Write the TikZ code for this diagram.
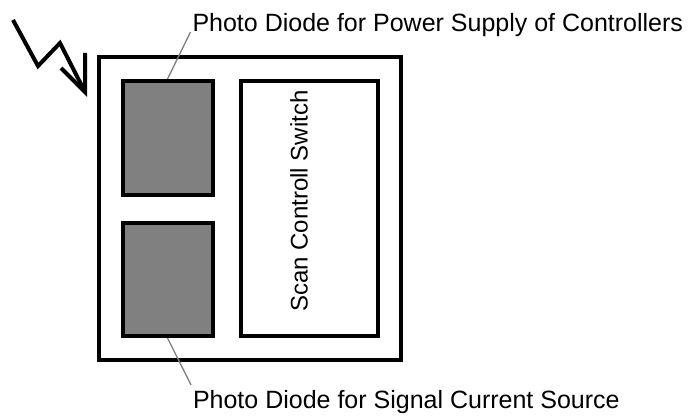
\documentclass[tikz,border=0pt]{standalone}
\usepackage{fontspec}
\setsansfont{Liberation Sans}
\usetikzlibrary{positioning}
\definecolor{cdiode}{HTML}{808080}
\definecolor{cgrey}{HTML}{7F7F7F}
\tikzset{
  every picture/.style={font=\sffamily, line width=4pt},
  box/.style={draw=black, fill=#1, rectangle, inner sep=0pt},
  box/.default=white,
  leader/.style={draw=cgrey, line width=1.3pt},
  lbl/.style={font=\sffamily\fontsize{25}{30}\selectfont, inner xsep=0pt, inner ysep=3pt},
}

\begin{document}
\begin{tikzpicture}[x=1pt, y=-1pt]
  \useasboundingbox (0,0) rectangle (692,417);
  % chip
  \node[box, minimum width=302pt, minimum height=302.5pt] (chip) at (250,208.25) {};
  \node[box=cdiode, minimum width=90pt, minimum height=113.5pt] (pdpower) at (167.5,137.75) {};
  \node[box=cdiode, minimum width=90pt, minimum height=113.5pt] (pdsignal) at (167.5,279.25) {};
  \node[box, minimum width=137pt, minimum height=254.5pt] (switch) at (309,208.25) {};
  \node[lbl, font=\sffamily\fontsize{24}{28}\selectfont, rotate=90] (switchtxt) at (299,201) {Scan Controll Switch};
  % labels
  \node[lbl, anchor=base west] (lblpower) at (190.5,32) {Photo Diode for Power Supply of Controllers};
  \node[lbl, anchor=base west] (lblsignal) at (191,408) {Photo Diode for Signal Current Source};
  \draw[leader] (pdpower.north) -- (lblpower.base west);
  \draw[leader] (pdsignal.south) -- (lblsignal.north west);
  % light
  \draw (13,20) -- (38,66) -- (60,43) -- (85,92);
  \draw (85,53) -- (85,92) -- (61,68);
\end{tikzpicture}
\end{document}
